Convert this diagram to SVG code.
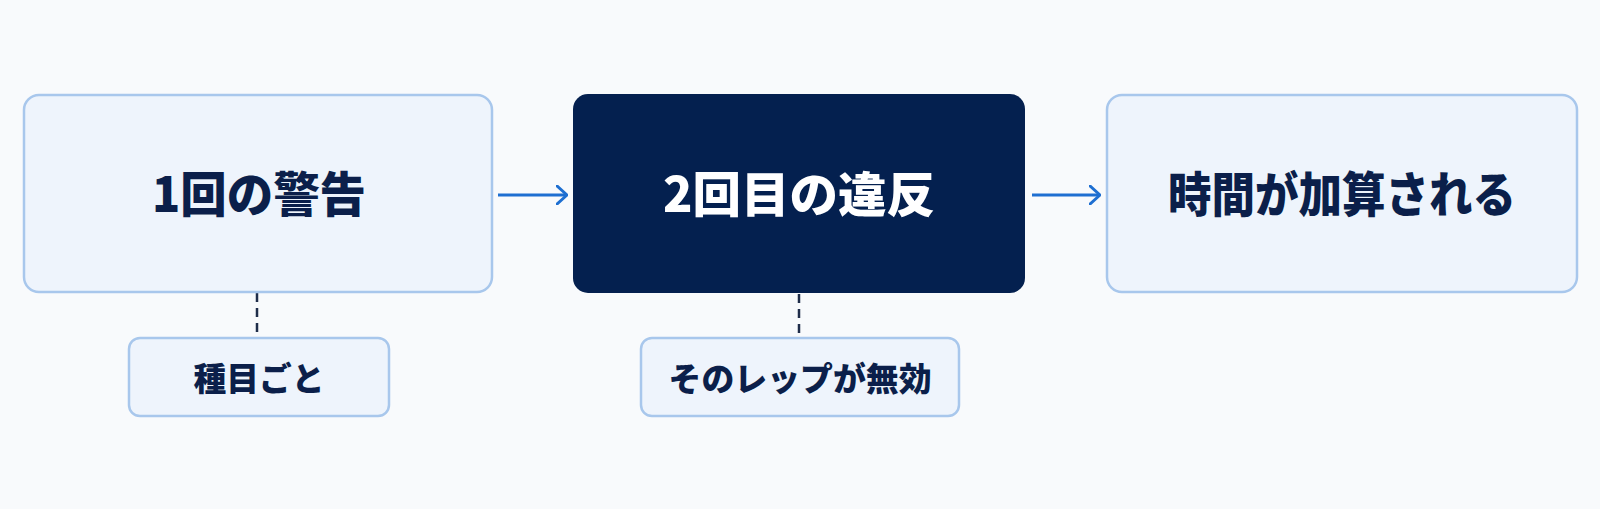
<svg xmlns="http://www.w3.org/2000/svg" width="1600" height="509" viewBox="0 0 1600 509">
<defs>
<style>
.light{fill:#EEF4FC;stroke:#A8C7EC;stroke-width:2.5}
.dark{fill:#04204F}
.t{font-family:"Noto Sans CJK JP","Noto Sans",sans-serif;font-weight:900;text-anchor:middle;dominant-baseline:central}
.big{font-size:48px}
.small{font-size:33px}
.conn{stroke:#1E6FD1;stroke-width:3;fill:none}
.dash{stroke:#1F2D4A;stroke-width:2.5;stroke-dasharray:9 6;fill:none}
</style>
<marker id="arr" viewBox="0 0 12 20" refX="11" refY="10" markerWidth="12" markerHeight="20" markerUnits="userSpaceOnUse" orient="auto">
<path d="M1,1 L11,10 L1,19" fill="none" stroke="#1E6FD1" stroke-width="3" stroke-linecap="round"/>
</marker>
</defs>
<rect width="1600" height="509" fill="#F8FAFC"/>
<g id="connectors">
<line class="conn" x1="498" y1="195" x2="567" y2="195" marker-end="url(#arr)"/>
<line class="conn" x1="1032" y1="195" x2="1100" y2="195" marker-end="url(#arr)"/>
<line class="dash" x1="257" y1="293" x2="257" y2="338"/>
<line class="dash" x1="799" y1="294" x2="799" y2="338"/>
</g>
<g id="node1">
<rect class="light" x="24" y="95" width="468" height="197" rx="15"/>
<text class="t big" x="259" y="191" fill="#0B1F4A" textLength="214" lengthAdjust="spacingAndGlyphs">1回の警告</text>
</g>
<g id="node2">
<rect class="dark" x="573" y="94" width="452" height="199" rx="15"/>
<text class="t big" x="799" y="191" fill="#FFFFFF" textLength="272" lengthAdjust="spacingAndGlyphs">2回目の違反</text>
</g>
<g id="node3">
<rect class="light" x="1107" y="95" width="470" height="197" rx="15"/>
<text class="t big" x="1342" y="191" fill="#0B1F4A" textLength="348" lengthAdjust="spacingAndGlyphs">時間が加算される</text>
</g>
<g id="note1">
<rect class="light" x="129" y="338" width="260" height="78" rx="11"/>
<text class="t small" x="259" y="377" fill="#0B1F4A" textLength="131" lengthAdjust="spacingAndGlyphs">種目ごと</text>
</g>
<g id="note2">
<rect class="light" x="641" y="338" width="318" height="78" rx="11"/>
<text class="t small" x="800" y="377" fill="#0B1F4A" textLength="263" lengthAdjust="spacingAndGlyphs">そのレップが無効</text>
</g>
</svg>
